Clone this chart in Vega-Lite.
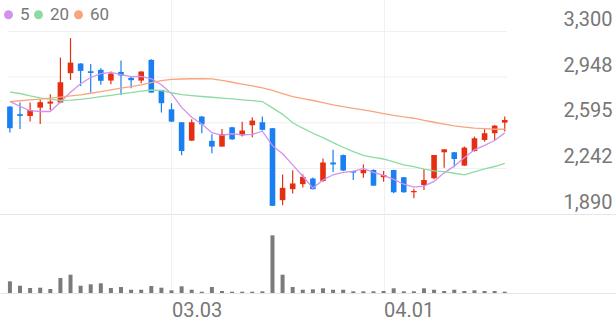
{
  "$schema": "https://vega.github.io/schema/vega-lite/v6.json",
  "padding": 0,
  "spacing": 0,
  "bounds": "flush",
  "background": "white",
  "config": {
    "view": {"stroke": null},
    "font": "Roboto",
    "axis": {"labelFont": "Roboto", "labelColor": "#777777", "labelFontSize": 20, "domain": false, "ticks": false, "tickSize": 0, "title": null, "gridColor": "#f0f0f0"}
  },
  "datasets": {
    "k": [
      {"d":"02.03","i":0,"open":2720,"high":2725,"low":2519,"close":2553,"vol":117000,"ma5":2760,"ma20":2831,"ma60":2759},
      {"d":"02.04","i":1,"open":2661,"high":2751,"low":2547,"close":2648,"vol":73000,"ma5":2722,"ma20":2821,"ma60":2765},
      {"d":"02.05","i":2,"open":2648,"high":2751,"low":2604,"close":2694,"vol":50000,"ma5":2688,"ma20":2803,"ma60":2772},
      {"d":"02.06","i":3,"open":2712,"high":2772,"low":2586,"close":2754,"vol":53000,"ma5":2682,"ma20":2787,"ma60":2778},
      {"d":"02.09","i":4,"open":2743,"high":2816,"low":2694,"close":2759,"vol":40000,"ma5":2682,"ma20":2775,"ma60":2785},
      {"d":"02.10","i":5,"open":2751,"high":3099,"low":2746,"close":2908,"vol":150000,"ma5":2755,"ma20":2768,"ma60":2793},
      {"d":"02.11","i":6,"open":2978,"high":3249,"low":2926,"close":3060,"vol":183000,"ma5":2830,"ma20":2770,"ma60":2802},
      {"d":"02.12","i":7,"open":3053,"high":3055,"low":2880,"close":2996,"vol":73000,"ma5":2897,"ma20":2776,"ma60":2810},
      {"d":"02.13","i":8,"open":2993,"high":3050,"low":2828,"close":2980,"vol":87000,"ma5":2945,"ma20":2785,"ma60":2823},
      {"d":"02.19","i":9,"open":3004,"high":3017,"low":2888,"close":2919,"vol":97000,"ma5":2975,"ma20":2797,"ma60":2836},
      {"d":"02.20","i":10,"open":2921,"high":2991,"low":2893,"close":2975,"vol":50000,"ma5":2985,"ma20":2806,"ma60":2849},
      {"d":"02.23","i":11,"open":2988,"high":3076,"low":2810,"close":2960,"vol":60000,"ma5":2967,"ma20":2818,"ma60":2862},
      {"d":"02.24","i":12,"open":2942,"high":2952,"low":2862,"close":2924,"vol":33000,"ma5":2952,"ma20":2828,"ma60":2875},
      {"d":"02.25","i":13,"open":2921,"high":2993,"low":2901,"close":2991,"vol":33000,"ma5":2953,"ma20":2840,"ma60":2888},
      {"d":"02.26","i":14,"open":3081,"high":3086,"low":2828,"close":2828,"vol":70000,"ma5":2935,"ma20":2848,"ma60":2905},
      {"d":"02.27","i":15,"open":2849,"high":2849,"low":2674,"close":2746,"vol":53000,"ma5":2889,"ma20":2844,"ma60":2921},
      {"d":"03.03","i":16,"open":2699,"high":2746,"low":2600,"close":2604,"vol":27000,"ma5":2820,"ma20":2827,"ma60":2930},
      {"d":"03.04","i":17,"open":2599,"high":2599,"low":2344,"close":2377,"vol":67000,"ma5":2714,"ma20":2812,"ma60":2933},
      {"d":"03.05","i":18,"open":2457,"high":2622,"low":2455,"close":2599,"vol":33000,"ma5":2638,"ma20":2805,"ma60":2935},
      {"d":"03.06","i":19,"open":2643,"high":2648,"low":2514,"close":2583,"vol":13000,"ma5":2585,"ma20":2798,"ma60":2935},
      {"d":"03.09","i":20,"open":2455,"high":2506,"low":2359,"close":2411,"vol":60000,"ma5":2518,"ma20":2792,"ma60":2934},
      {"d":"03.10","i":21,"open":2411,"high":2547,"low":2409,"close":2506,"vol":20000,"ma5":2498,"ma20":2786,"ma60":2922},
      {"d":"03.11","i":22,"open":2560,"high":2565,"low":2462,"close":2467,"vol":13000,"ma5":2510,"ma20":2779,"ma60":2908},
      {"d":"03.12","i":23,"open":2498,"high":2602,"low":2488,"close":2535,"vol":13000,"ma5":2502,"ma20":2772,"ma60":2894},
      {"d":"03.13","i":24,"open":2576,"high":2638,"low":2483,"close":2612,"vol":13000,"ma5":2505,"ma20":2766,"ma60":2880},
      {"d":"03.16","i":25,"open":2599,"high":2643,"low":2535,"close":2540,"vol":17000,"ma5":2530,"ma20":2759,"ma60":2864},
      {"d":"03.17","i":26,"open":2553,"high":2555,"low":1953,"close":1953,"vol":577000,"ma5":2418,"ma20":2710,"ma60":2846},
      {"d":"03.18","i":27,"open":1997,"high":2195,"low":1958,"close":2092,"vol":183000,"ma5":2355,"ma20":2660,"ma60":2821},
      {"d":"03.19","i":28,"open":2082,"high":2229,"low":2048,"close":2126,"vol":60000,"ma5":2270,"ma20":2595,"ma60":2797},
      {"d":"03.20","i":29,"open":2121,"high":2198,"low":2095,"close":2177,"vol":33000,"ma5":2182,"ma20":2553,"ma60":2782},
      {"d":"03.23","i":30,"open":2164,"high":2172,"low":2079,"close":2082,"vol":37000,"ma5":2090,"ma20":2514,"ma60":2767},
      {"d":"03.24","i":31,"open":2146,"high":2319,"low":2139,"close":2288,"vol":47000,"ma5":2153,"ma20":2480,"ma60":2750},
      {"d":"03.25","i":32,"open":2288,"high":2387,"low":2215,"close":2273,"vol":33000,"ma5":2193,"ma20":2442,"ma60":2733},
      {"d":"03.26","i":33,"open":2345,"high":2350,"low":2223,"close":2226,"vol":33000,"ma5":2212,"ma20":2406,"ma60":2720},
      {"d":"03.27","i":34,"open":2223,"high":2225,"low":2153,"close":2210,"vol":17000,"ma5":2220,"ma20":2372,"ma60":2707},
      {"d":"03.30","i":35,"open":2205,"high":2272,"low":2171,"close":2230,"vol":17000,"ma5":2243,"ma20":2343,"ma60":2694},
      {"d":"03.31","i":36,"open":2230,"high":2235,"low":2107,"close":2109,"vol":17000,"ma5":2211,"ma20":2327,"ma60":2681},
      {"d":"04.01","i":37,"open":2174,"high":2223,"low":2140,"close":2192,"vol":20000,"ma5":2188,"ma20":2315,"ma60":2666},
      {"d":"04.02","i":38,"open":2230,"high":2232,"low":2050,"close":2058,"vol":47000,"ma5":2158,"ma20":2292,"ma60":2652},
      {"d":"04.03","i":39,"open":2174,"high":2176,"low":2055,"close":2058,"vol":17000,"ma5":2120,"ma20":2270,"ma60":2640},
      {"d":"04.06","i":40,"open":2058,"high":2086,"low":2011,"close":2068,"vol":17000,"ma5":2097,"ma20":2256,"ma60":2630},
      {"d":"04.07","i":41,"open":2114,"high":2238,"low":2076,"close":2153,"vol":47000,"ma5":2105,"ma20":2237,"ma60":2614},
      {"d":"04.08","i":42,"open":2166,"high":2346,"low":2158,"close":2346,"vol":33000,"ma5":2142,"ma20":2224,"ma60":2599},
      {"d":"04.09","i":43,"open":2367,"high":2390,"low":2248,"close":2390,"vol":20000,"ma5":2208,"ma20":2217,"ma60":2585},
      {"d":"04.10","i":44,"open":2367,"high":2369,"low":2251,"close":2315,"vol":33000,"ma5":2260,"ma20":2205,"ma60":2571},
      {"d":"04.13","i":45,"open":2264,"high":2411,"low":2261,"close":2403,"vol":20000,"ma5":2325,"ma20":2192,"ma60":2562},
      {"d":"04.14","i":46,"open":2377,"high":2488,"low":2372,"close":2475,"vol":27000,"ma5":2386,"ma20":2215,"ma60":2553},
      {"d":"04.15","i":47,"open":2462,"high":2545,"low":2449,"close":2514,"vol":20000,"ma5":2420,"ma20":2238,"ma60":2549},
      {"d":"04.16","i":48,"open":2514,"high":2578,"low":2462,"close":2573,"vol":20000,"ma5":2458,"ma20":2257,"ma60":2545},
      {"d":"04.17","i":49,"open":2596,"high":2643,"low":2527,"close":2617,"vol":13000,"ma5":2517,"ma20":2282,"ma60":2545}
    ],
    "g": [{"g":2242},{"g":2595},{"g":2948},{"g":3300}]
  },
  "vconcat": [
    {
      "width": 616,
      "height": 214,
      "data": {"name": "k"},
      "layer": [
        {
          "data": {"name": "g"},
          "mark": {"type": "rule", "color": "#f0f0f0", "strokeWidth": 1},
          "encoding": {
            "y": {"field": "g", "type": "quantitative", "scale": {"domain": [1890, 3543.6], "nice": false, "zero": false},
                  "axis": {"orient": "right", "values": [1890, 2242, 2595, 2948, 3300], "format": ",.0f", "labelAlign": "right", "labelBaseline": "alphabetic", "labelPadding": -4, "labelOffset": -6, "grid": false}},
            "x": {"datum": -0.2, "type": "quantitative", "scale": {"domain": [-0.487, 59.52], "nice": false, "zero": false},
                  "axis": {"orient": "bottom", "values": [16, 37], "labels": false, "grid": true, "domain": true, "domainColor": "#e6e6e6"}},
            "x2": {"datum": 49.2}
          }
        },
        {
          "mark": {"type": "rule", "strokeWidth": 1.2},
          "encoding": {
            "x": {"field": "i", "type": "quantitative"},
            "y": {"field": "low", "type": "quantitative"},
            "y2": {"field": "high"},
            "color": {"condition": {"test": "datum.close >= datum.open", "value": "#e62e12"}, "value": "#1a7ff0"}
          }
        },
        {
          "mark": {"type": "bar", "size": 5.6},
          "encoding": {
            "x": {"field": "i", "type": "quantitative"},
            "y": {"field": "open", "type": "quantitative"},
            "y2": {"field": "close"},
            "color": {"condition": {"test": "datum.close >= datum.open", "value": "#e62e12"}, "value": "#1a7ff0"}
          }
        },
        {
          "transform": [{"fold": ["ma5", "ma20", "ma60"], "as": ["ma", "v"]}, {"filter": "datum.i < 0"}],
          "mark": {"type": "point", "filled": true, "opacity": 1},
          "encoding": {
            "x": {"field": "i", "type": "quantitative"},
            "y": {"field": "v", "type": "quantitative"},
            "color": {"field": "ma", "type": "nominal", "scale": {"domain": ["ma5", "ma20", "ma60"], "range": ["#d291ee", "#8cdca0", "#f8a57d"]},
                      "legend": {"labelExpr": "replace(datum.label, 'ma', '')", "orient": "none", "legendX": 0, "legendY": 6, "direction": "horizontal", "symbolType": "circle", "symbolSize": 80, "labelFontSize": 17, "labelColor": "#777777", "labelFont": "Roboto", "labelOffset": 3, "columnPadding": -7, "padding": 0, "title": null, "symbolStrokeWidth": 0}}
          }
        },
        {
          "transform": [{"fold": ["ma5", "ma20", "ma60"], "as": ["ma", "v"]}],
          "mark": {"type": "line", "strokeWidth": 1.3},
          "encoding": {
            "x": {"field": "i", "type": "quantitative"},
            "y": {"field": "v", "type": "quantitative"},
            "color": {"field": "ma", "type": "nominal", "sort": ["ma5", "ma20", "ma60"]}
          }
        }
      ]
    },
    {
      "width": 616,
      "height": 79,
      "data": {"name": "k"},
      "mark": {"type": "bar", "size": 4, "color": "#7b7b7b"},
      "encoding": {
        "x": {"field": "i", "type": "quantitative", "scale": {"domain": [-0.487, 59.52], "nice": false, "zero": false},
              "axis": {"orient": "bottom", "values": [16, 37], "labelExpr": "datum.value == 16 ? '03.03' : '04.01'", "labelAlign": "left", "labelBaseline": "top", "labelPadding": 7, "labelFlush": false, "grid": true, "domain": true, "domainColor": "#e6e6e6"}},
        "y": {"field": "vol", "type": "quantitative", "scale": {"domain": [0, 790000], "nice": false}, "axis": null}
      }
    }
  ]
}
